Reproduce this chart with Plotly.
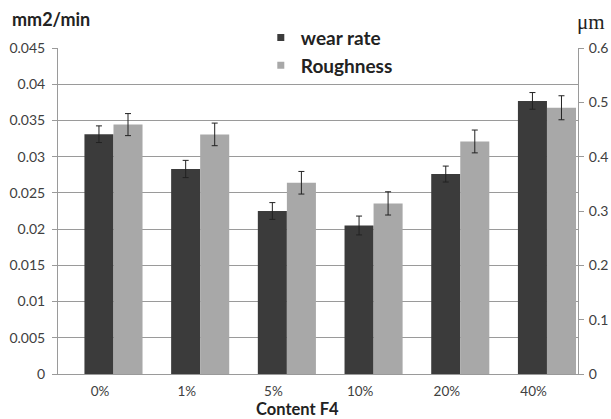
import plotly.graph_objects as go

categories = ["0%", "1%", "5%", "10%", "20%", "40%"]
wear_rate = [0.0331, 0.0283, 0.0225, 0.0205, 0.0276, 0.0377]
wear_err = [0.00115, 0.00119, 0.00116, 0.0013, 0.0011, 0.00115]
roughness = [0.459, 0.441, 0.352, 0.314, 0.428, 0.490]
rough_err = [0.0203, 0.0208, 0.0208, 0.0214, 0.021, 0.0221]

left_ticks = [0, 0.005, 0.01, 0.015, 0.02, 0.025, 0.03, 0.035, 0.04, 0.045]
left_tick_text = ["0", "0.005", "0.01", "0.015", "0.02", "0.025", "0.03", "0.035", "0.04", "0.045"]
right_ticks = [0, 0.1, 0.2, 0.3, 0.4, 0.5, 0.6]
right_tick_text = ["0", "0.1", "0.2", "0.3", "0.4", "0.5", "0.6"]

FONT = "Lato"
DARK = "#3b3b3b"
LIGHT = "#a8a8a8"
fig = go.Figure()
fig.add_trace(go.Bar(
    x=categories, y=wear_rate, name="wear rate", showlegend=False,
    marker=dict(color=DARK, line=dict(width=0)),
    offset=-0.18, width=0.335,
    error_y=dict(type="data", array=wear_err, color="#222", thickness=1, width=3),
    yaxis="y",
))
fig.add_trace(go.Bar(
    x=categories, y=roughness, name="Roughness", showlegend=False,
    marker=dict(color=LIGHT, line=dict(width=0)),
    offset=0.155, width=0.335,
    error_y=dict(type="data", array=rough_err, color="#222", thickness=1, width=3),
    yaxis="y2",
))
# legend entries (small square symbols as in the reference)
fig.add_trace(go.Scatter(x=[None], y=[None], mode="markers", name="<b>wear rate</b>",
                         marker=dict(symbol="square", size=7, color=DARK)))
fig.add_trace(go.Scatter(x=[None], y=[None], mode="markers", name="<b>Roughness</b>",
                         marker=dict(symbol="square", size=7, color=LIGHT)))

fig.update_layout(
    width=611, height=419,
    margin=dict(l=58, r=33, t=48, b=45, autoexpand=False),
    paper_bgcolor="white", plot_bgcolor="white",
    font=dict(family=FONT, size=13, color="#404040"),
    barmode="overlay",
    showlegend=True,
    legend=dict(
        x=0.39, y=1.09, xanchor="left", yanchor="top",
        font=dict(family=FONT, size=19, color="#222"),
        bgcolor="rgba(0,0,0,0)", itemwidth=30,
        tracegroupgap=0,
    ),
    xaxis=dict(
        type="category", range=[-0.485, 5.513], automargin=False,
        showgrid=False, showline=True, linecolor="#9a9a9a", linewidth=1,
        ticks="", ticklabelstandoff=5,
        tickfont=dict(family=FONT, size=13.5, color="#404040"),
    ),
    yaxis=dict(
        range=[0, 0.045], tickvals=left_ticks, ticktext=left_tick_text, automargin=False,
        showgrid=True, gridcolor="#9a9a9a", gridwidth=1,
        showline=True, linecolor="#9a9a9a", linewidth=1,
        ticks="outside", ticklen=5, tickcolor="#9a9a9a", ticklabelstandoff=4,
        tickfont=dict(family=FONT, size=14, color="#404040"),
        zeroline=False,
    ),
    yaxis2=dict(
        range=[0, 0.6], tickvals=right_ticks, ticktext=right_tick_text, automargin=False,
        overlaying="y", side="right", showgrid=False,
        showline=True, linecolor="#9a9a9a", linewidth=1,
        ticks="outside", ticklen=5, tickcolor="#9a9a9a", ticklabelstandoff=2,
        tickfont=dict(family=FONT, size=14, color="#404040"),
        zeroline=False,
    ),
    annotations=[
        dict(text="<b>mm2/min</b>", xref="paper", yref="paper", x=-0.092, y=1.09,
             xanchor="left", yanchor="middle", showarrow=False,
             font=dict(family=FONT, size=18, color="#222")),
        dict(text="μm", xref="paper", yref="paper", x=0.994, y=1.08,
             xanchor="left", yanchor="middle", showarrow=False,
             font=dict(family="Liberation Serif", size=21, color="#222")),
        dict(text="<b>Content F4</b>", xref="paper", yref="paper", x=0.4615, y=-0.107,
             xanchor="center", yanchor="middle", showarrow=False,
             font=dict(family=FONT, size=16.5, color="#222")),
    ],
)

fig.write_html(
    "out.html",
    config={"displayModeBar": False},
    post_script="document.body.style.margin='0';document.body.style.overflow='hidden';",
)
